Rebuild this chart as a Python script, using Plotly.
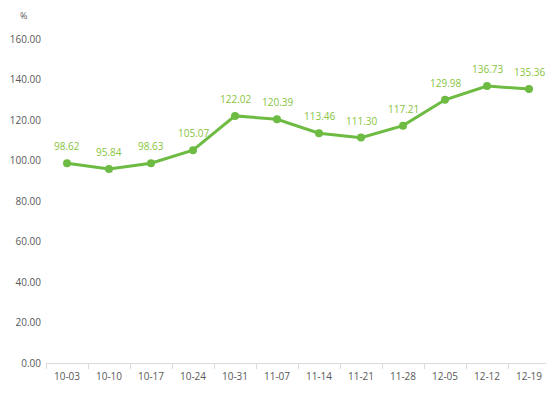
import plotly.graph_objects as go

dates = ["10-03", "10-10", "10-17", "10-24", "10-31", "11-07", "11-14", "11-21", "11-28", "12-05", "12-12", "12-19"]
values = [98.62, 95.84, 98.63, 105.07, 122.02, 120.39, 113.46, 111.30, 117.21, 129.98, 136.73, 135.36]
y_ticks = [0, 20, 40, 60, 80, 100, 120, 140, 160]

green = "#6DBB42"
label_green = "#86C440"
fig = go.Figure()
fig.add_trace(go.Scatter(
    x=dates, y=values,
    mode="lines+markers",
    line=dict(color=green, width=3),
    marker=dict(color=green, size=8),
    hoverinfo="skip",
))
annotations = [dict(x=d, y=v, text=f"{v:.2f}", showarrow=False, yshift=17,
                    xanchor="center", yanchor="middle",
                    font=dict(color=label_green, size=10, family="Open Sans"))
               for d, v in zip(dates, values)]
annotations.append(dict(text="%", xref="paper", yref="paper", x=-0.045, y=1.072,
                        xanchor="center", yanchor="middle", showarrow=False,
                        font=dict(size=9, color="#595959")))
fig.update_layout(
    width=546, height=390,
    margin=dict(l=38, r=4, t=31, b=35, autoexpand=False),
    plot_bgcolor="white", paper_bgcolor="white",
    showlegend=False,
    font=dict(family="Open Sans", size=10, color="#595959"),
    annotations=annotations,
)
fig.update_xaxes(
    type="category", range=[-0.5, len(dates) - 0.5],
    showgrid=False, showline=True, linecolor="#D9D9D9", linewidth=1,
    ticks="outside", tickson="boundaries", ticklen=5, tickcolor="#D9D9D9",
    tickfont=dict(size=10, color="#595959"), ticklabelstandoff=4, automargin=False,
)
fig.update_yaxes(
    range=[0, 160], tickvals=y_ticks, ticktext=[f"{v:.2f}" for v in y_ticks],
    showgrid=False, zeroline=False, showline=False, automargin=False,
    tickfont=dict(size=10, color="#595959"), ticklabelstandoff=4,
)
fig.write_html("out.html")
